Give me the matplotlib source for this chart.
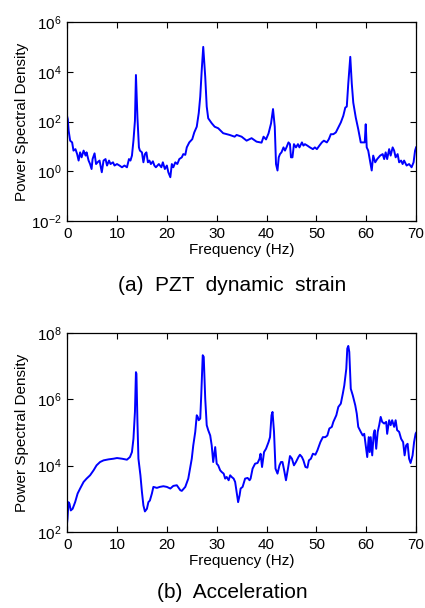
import numpy as np
import matplotlib
matplotlib.use('Agg')
import matplotlib.pyplot as plt
from matplotlib.ticker import FixedLocator, NullLocator

plt.rcParams['font.family'] = ['Liberation Sans', 'DejaVu Sans']
plt.rcParams['mathtext.fontset'] = 'custom'
plt.rcParams['mathtext.rm'] = 'Liberation Sans'
plt.rcParams['mathtext.it'] = 'Liberation Sans'

# (a) PZT dynamic strain: frequency (Hz) and log10(PSD)
freq_a = [0.0, 0.13, 0.3, 0.6, 1.0, 1.27, 1.67, 2.0, 2.3, 2.6, 2.9, 3.3, 3.7, 3.9, 4.3,
          4.6, 4.9, 5.1, 5.5, 5.8, 6.1, 6.5, 6.95, 7.3, 7.7, 8.0, 8.4, 8.7, 9.2, 9.5,
          10.0, 10.5, 11.0, 11.5, 12.0, 12.4, 12.7, 13.0, 13.3, 13.6, 13.8, 14.1, 14.4,
          14.6, 15.0, 15.3, 15.6, 15.9, 16.2, 16.5, 16.8, 17.2, 17.5, 17.8, 18.4, 18.9,
          19.2, 19.6, 20.0, 20.3, 20.7, 21.0, 21.3, 21.7, 22.1, 22.5, 23.0, 23.3, 23.7,
          24.0, 24.5, 25.1, 25.5, 26.0, 26.4, 26.7, 27.0, 27.3, 27.7, 28.0, 28.3, 29.0,
          29.6, 30.3, 31.3, 32.6, 33.6, 34.0, 35.0, 36.0, 37.0, 38.0, 39.0, 39.4, 39.9,
          40.4, 40.9, 41.3, 41.65, 41.9, 42.2, 42.45, 42.7, 43.0, 43.4, 43.7, 44.0, 44.4,
          44.7, 44.9, 45.2, 45.5, 45.9, 46.3, 46.6, 47.1, 47.4, 47.7, 48.2, 48.7, 49.3,
          49.7, 50.1, 50.6, 51.1, 51.5, 52.1, 52.5, 52.9, 53.4, 53.9, 54.4, 54.9, 55.4,
          55.8, 56.1, 56.4, 56.8, 57.1, 57.4, 57.9, 58.4, 58.9, 59.4, 59.7, 59.9, 60.1,
          60.4, 60.8, 61.1, 61.4, 61.8, 62.2, 62.8, 63.3, 63.6, 63.9, 64.2, 64.6, 64.9,
          65.3, 65.6, 65.9, 66.3, 66.6, 67.0, 67.3, 67.6, 68.1, 68.6, 69.1, 69.5, 69.8, 70.0]
logpsd_a = [2.2, 2.09, 1.63, 1.23, 1.16, 0.83, 0.89, 0.69, 0.43, 0.76, 0.56, 0.83, 0.63,
            0.76, 0.43, 0.29, 0.09, 0.49, 0.72, 0.29, 0.36, 0.43, -0.04, 0.43, 0.49, 0.23,
            0.43, 0.29, 0.36, 0.23, 0.29, 0.23, 0.16, 0.23, 0.16, 0.49, 0.43, 0.63, 1.23,
            2.03, 3.87, 2.16, 0.96, 0.83, 0.76, 0.36, 0.69, 0.76, 0.36, 0.43, 0.29, 0.40,
            0.23, 0.16, 0.29, 0.16, 0.36, 0.09, 0.23, -0.04, -0.24, 0.29, 0.16, 0.36, 0.29,
            0.49, 0.56, 0.69, 0.66, 0.96, 1.16, 1.29, 1.56, 1.79, 2.34, 3.0, 4.07, 5.0, 3.8,
            2.6, 2.13, 1.93, 1.79, 1.73, 1.53, 1.46, 1.39, 1.46, 1.39, 1.23, 1.33, 1.19,
            1.15, 1.39, 1.28, 1.52, 1.92, 2.5, 1.79, 0.29, 0.03, 0.56, 0.69, 0.76, 0.96,
            0.83, 0.96, 1.16, 1.09, 0.56, 0.56, 1.09, 0.96, 1.09, 0.96, 1.16, 1.03, 1.09,
            1.03, 0.96, 0.89, 0.96, 0.89, 1.03, 1.16, 1.23, 1.16, 1.29, 1.49, 1.49, 1.56,
            1.76, 1.96, 2.23, 2.56, 2.6, 3.53, 4.6, 3.53, 2.76, 2.16, 1.69, 1.16, 1.16,
            1.16, 1.89, 0.96, 0.83, 0.36, 0.03, 0.63, 0.36, 0.49, 0.63, 0.69, 0.49, 0.76,
            0.49, 0.89, 0.63, 0.96, 0.83, 0.56, 0.69, 0.36, 0.43, 0.29, 0.43, 0.23, 0.29,
            0.16, 0.36, 0.83, 0.96]

# (b) Acceleration
freq_b = [0.0, 0.07, 0.27, 0.47, 0.73, 1.1, 1.6, 2.1, 2.6, 3.3, 3.9, 4.6, 5.3, 5.9, 6.6,
          7.3, 8.3, 9.3, 10.0, 11.0, 12.0, 12.6, 13.0, 13.3, 13.6, 13.8, 13.9, 14.1, 14.3,
          14.7, 15.0, 15.3, 15.6, 16.0, 16.3, 16.6, 17.0, 17.3, 18.0, 18.6, 19.3, 20.0,
          20.7, 21.3, 22.0, 22.7, 23.0, 23.7, 24.3, 25.0, 25.3, 25.7, 26.0, 26.2, 26.4,
          26.7, 26.9, 27.2, 27.4, 27.7, 28.0, 28.3, 28.7, 29.0, 29.3, 29.7, 30.0, 30.3,
          30.7, 31.0, 31.4, 31.7, 32.0, 32.4, 32.7, 33.0, 33.4, 33.7, 34.0, 34.3, 34.6,
          34.8, 35.2, 35.7, 36.2, 36.6, 36.8, 37.2, 37.7, 38.2, 38.6, 38.8, 39.1, 39.5,
          39.9, 40.4, 40.7, 41.0, 41.2, 41.5, 41.8, 42.2, 42.6, 42.9, 43.2, 43.6, 43.9,
          44.3, 44.7, 45.1, 45.5, 45.9, 46.4, 46.7, 47.1, 47.4, 47.8, 48.2, 48.5, 48.9,
          49.3, 49.8, 50.2, 50.8, 51.3, 51.8, 52.2, 52.6, 53.1, 53.4, 54.0, 54.4, 54.9,
          55.3, 55.6, 56.0, 56.2, 56.4, 56.6, 56.9, 57.3, 57.8, 58.1, 58.4, 58.9, 59.3,
          59.6, 59.9, 60.2, 60.5, 60.7, 60.9, 61.2, 61.5, 61.7, 62.0, 62.3, 62.6, 62.9,
          63.2, 63.6, 64.0, 64.2, 64.6, 64.9, 65.2, 65.6, 65.9, 66.2, 66.6, 67.0, 67.4,
          67.7, 68.0, 68.3, 68.6, 68.9, 69.3, 69.6, 69.9, 70.0]
logpsd_b = [2.3, 2.4, 2.9, 2.85, 2.65, 2.7, 2.9, 3.16, 3.31, 3.51, 3.61, 3.71, 3.86, 4.01,
            4.11, 4.16, 4.19, 4.21, 4.23, 4.21, 4.18, 4.26, 4.41, 4.81, 5.62, 6.82, 6.77,
            5.32, 4.21, 3.71, 3.21, 2.8, 2.62, 2.7, 2.9, 2.95, 3.16, 3.36, 3.33, 3.36, 3.38,
            3.36, 3.31, 3.39, 3.41, 3.26, 3.24, 3.36, 3.61, 4.21, 4.61, 5.02, 5.52, 5.47,
            5.37, 5.42, 6.12, 7.33, 7.28, 6.02, 5.22, 5.07, 4.91, 4.61, 4.11, 4.56, 4.06,
            4.01, 3.86, 3.81, 3.76, 3.61, 3.66, 3.56, 3.71, 3.66, 3.61, 3.51, 3.21, 2.9,
            3.11, 3.31, 3.36, 3.61, 3.63, 3.56, 3.61, 3.91, 4.06, 4.08, 4.21, 4.36, 3.96,
            4.41, 4.51, 4.71, 4.86, 5.52, 5.62, 5.02, 3.91, 3.76, 4.01, 4.11, 4.11, 3.81,
            3.56, 3.91, 4.29, 4.21, 4.01, 4.11, 4.26, 4.33, 4.26, 4.16, 3.96, 3.94, 4.16,
            4.21, 4.36, 4.33, 4.46, 4.71, 4.86, 4.86, 4.91, 5.12, 5.17, 5.32, 5.52, 5.77,
            5.87, 6.17, 6.42, 6.92, 7.53, 7.61, 7.43, 6.32, 6.12, 5.82, 5.57, 5.17, 5.02,
            4.91, 4.96, 4.61, 4.26, 4.86, 4.41, 4.86, 4.31, 4.96, 5.07, 4.51, 5.02, 5.22,
            5.47, 5.32, 5.27, 5.32, 4.96, 5.37, 5.22, 5.37, 5.17, 5.37, 5.07, 5.02, 4.81,
            4.71, 4.31, 4.61, 4.66, 4.21, 4.08, 4.31, 4.71, 4.96, 4.99]

panels = [
    (freq_a, logpsd_a, [-2, 0, 2, 4, 6], '(a)  PZT  dynamic  strain'),
    (freq_b, logpsd_b, [2, 4, 6, 8], '(b)  Acceleration'),
]
xticks = [0, 10, 20, 30, 40, 50, 60, 70]

fig = plt.figure(figsize=(4.25, 6.08), dpi=100)
ax_rects = [[0.158, 0.6365, 0.821, 0.3273], [0.158, 0.125, 0.821, 0.3273]]
caption_y = [0.531, 0.025]

for (f, lp, dec, cap), rect, cy in zip(panels, ax_rects, caption_y):
    ax = fig.add_axes(rect)
    ax.semilogy(f, 10.0 ** np.array(lp), color='#0000ff', lw=1.4)
    ax.set_xlim(0, 70)
    ax.set_ylim(10.0 ** dec[0], 10.0 ** dec[-1])
    ax.xaxis.set_major_locator(FixedLocator(xticks))
    ax.set_xticklabels([str(t) for t in xticks])
    ax.yaxis.set_major_locator(FixedLocator([10.0 ** d for d in dec]))
    ax.yaxis.set_minor_locator(NullLocator())
    ax.set_yticklabels([r'$\mathregular{10^{%d}}$' % d for d in dec])
    ax.tick_params(direction='in', top=True, right=True, length=4, width=0.8,
                   labelsize=11, pad=4)
    for s in ax.spines.values():
        s.set_linewidth(0.9)
    ax.set_xlabel('Frequency (Hz)', fontsize=11, labelpad=2)
    ax.set_ylabel('Power Spectral Density', fontsize=11)
    ax.yaxis.set_label_coords(-0.108, 0.5)
    fig.text(0.546, cy, cap, ha='center', va='center', fontsize=15)

plt.savefig('out.png', dpi=100)
